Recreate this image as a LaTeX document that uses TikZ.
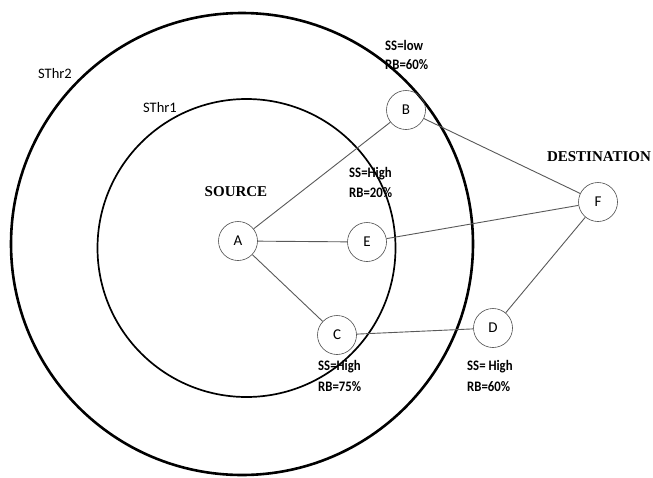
\documentclass[tikz,border=0pt]{standalone}
\usepackage{fontspec}
\setmainfont{Liberation Serif}
\newfontfamily\carl{Carlito}
\newfontfamily\carln[FakeStretch=0.88]{Carlito}
\begin{document}
\begin{tikzpicture}[x=1pt,y=-1pt,
  nd/.style={circle, draw=black!70, line width=0.6pt, minimum size=39pt, inner sep=0pt,
    font=\carl\fontsize{15}{15}\selectfont},
  edge/.style={draw=black!65, line width=0.9pt},
  lbl/.style={font=\carln\bfseries\fontsize{14.5}{14.5}\selectfont, anchor=west, inner sep=0pt},
  thr/.style={font=\carl\fontsize{14.5}{14.5}\selectfont, inner sep=0pt},
  title/.style={font=\bfseries\fontsize{15}{15}\selectfont, inner sep=0pt}]
\useasboundingbox (0,0) rectangle (653,477);
\fill[white] (0,0) rectangle (653,477);
% threshold circles
\draw[line width=2.6pt] (242,244) circle[radius=231];
\draw[line width=1.7pt] (246.5,248) circle[radius=149];
% nodes
\node[nd] (A) at (238,241) {A};
\node[nd] (B) at (406,110) {B};
\node[nd] (E) at (367,242) {E};
\node[nd] (C) at (337,335) {C};
\node[nd] (D) at (493,328) {D};
\node[nd] (F) at (598,202) {F};
% edges
\draw[edge] (A) -- (B);
\draw[edge] (A) -- (E);
\draw[edge] (A) -- (C);
\draw[edge] (B) -- (F);
\draw[edge] (E) -- (F);
\draw[edge] (C) -- (D);
\draw[edge] (D) -- (F);
% texts
\node[thr] (t2) at (55,74) {SThr2};
\node[thr] (t1) at (160,108) {SThr1};
\node[title] (src) at (236,192) {SOURCE};
\node[title] (dst) at (599,157) {DESTINATION};
\node[lbl] (b1) at (385,45) {SS=low};
\node[lbl] (b2) at (385,65) {RB=60\%};
\node[lbl] (e1) at (349,174) {SS=High};
\node[lbl] (e2) at (349,193) {RB=20\%};
\node[lbl] (c1) at (318,367) {SS=High};
\node[lbl] (c2) at (318,387) {RB=75\%};
\node[lbl] (d1) at (467,367) {SS= High};
\node[lbl] (d2) at (467,387) {RB=60\%};
\end{tikzpicture}
\end{document}
